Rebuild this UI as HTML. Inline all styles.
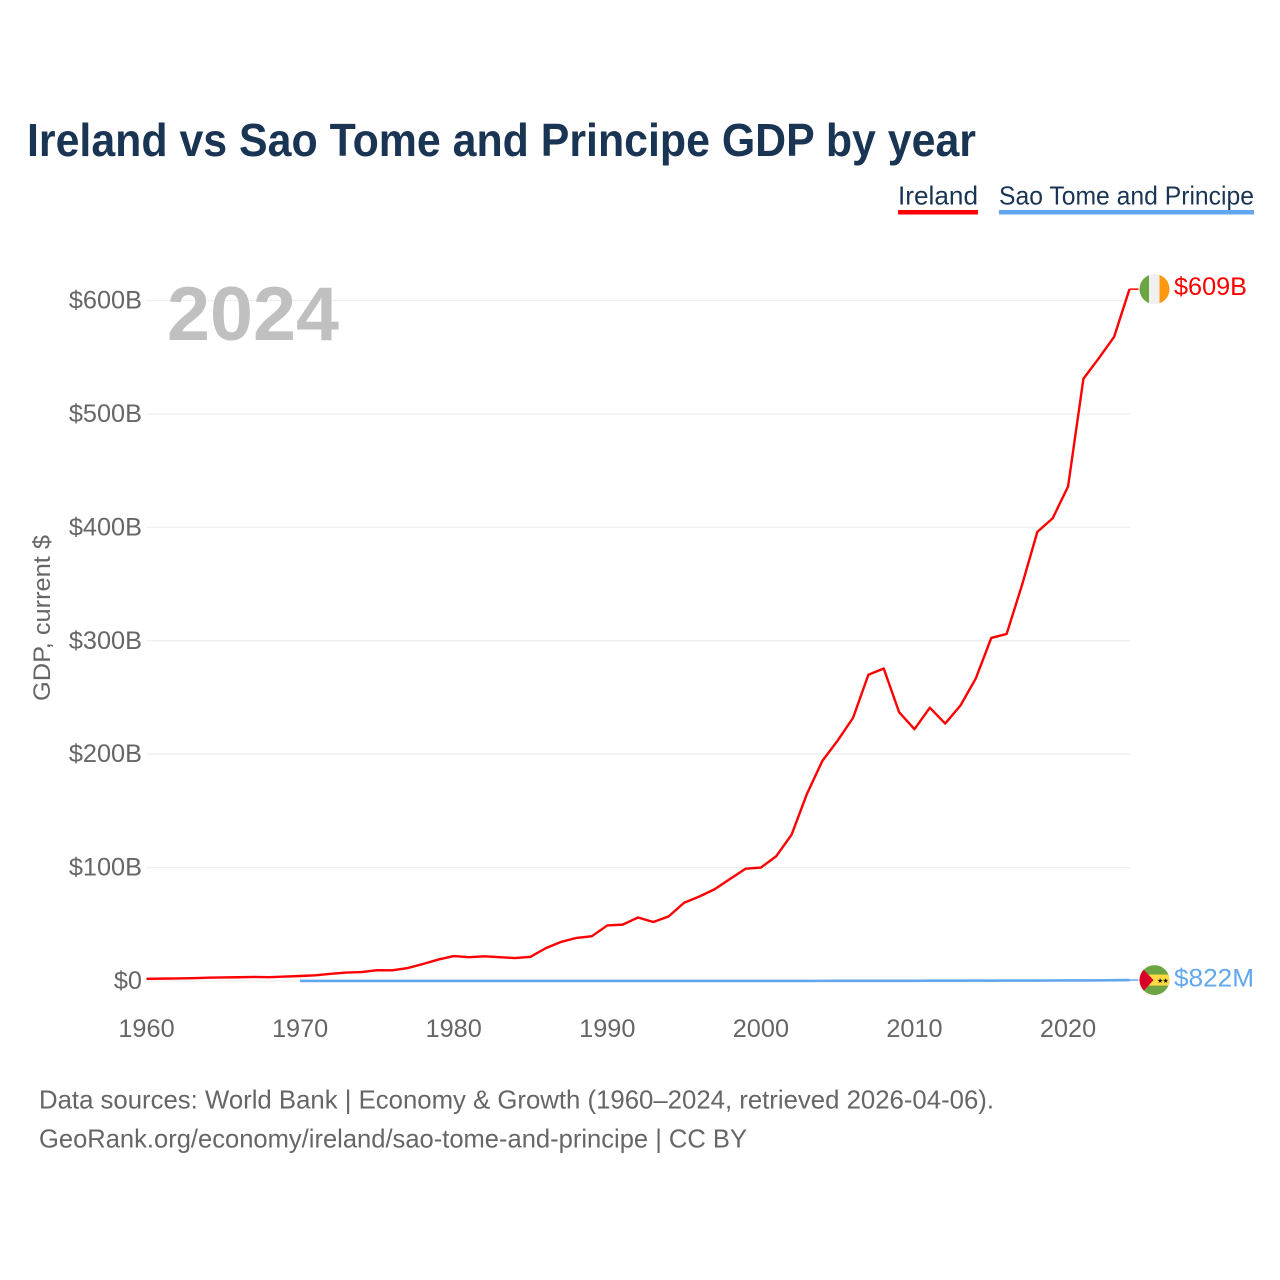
<!DOCTYPE html>
<html lang="en">
<head>
<meta charset="utf-8">
<title>Ireland vs Sao Tome and Principe GDP by year</title>
<style>
html,body{margin:0;padding:0;background:#fff;}
svg{display:block;font-family:"Liberation Sans",sans-serif;}
</style>
</head>
<body>
<svg id="chart" xmlns="http://www.w3.org/2000/svg" width="1280" height="1280" viewBox="0 0 1280 1280">
  <rect x="0" y="0" width="1280" height="1280" fill="#ffffff"/>
  <text x="27" y="156" font-size="46" font-weight="700" fill="#1a3454" textLength="949" lengthAdjust="spacingAndGlyphs">Ireland vs Sao Tome and Principe GDP by year</text>

  <g>
    <text x="898" y="204.5" font-size="26" fill="#1a3454" textLength="80" lengthAdjust="spacingAndGlyphs">Ireland</text>
    <rect x="898" y="210" width="80" height="4.5" fill="#ff0000"/>
  </g>
  <g>
    <text x="999" y="204.5" font-size="26" fill="#1a3454" textLength="255" lengthAdjust="spacingAndGlyphs">Sao Tome and Principe</text>
    <rect x="999" y="210" width="255" height="4.5" fill="#62a6ee"/>
  </g>

  <text transform="translate(50,618) rotate(-90)" text-anchor="middle" font-size="24" fill="#666666" textLength="166" lengthAdjust="spacingAndGlyphs">GDP, current $</text>

  <g id="grid"></g>
  <g id="yticks"></g>
  <g id="xticks"></g>

  <text x="167" y="340" font-size="76" font-weight="700" fill="#c0c0c0" textLength="172" lengthAdjust="spacingAndGlyphs">2024</text>

  <path id="line-sao-tome" fill="none" stroke="#62a6ee" stroke-width="2.6" stroke-linejoin="round"/>
  <path id="line-ireland" fill="none" stroke="#ff0000" stroke-width="2.4" stroke-linejoin="round"/>

  <g id="end-ireland">
    <line id="conn-ireland" stroke="#ff0000" stroke-width="1.5"/>
    <g id="flag-ireland">
      <clipPath id="clip-ie"><circle cx="0" cy="0" r="15"/></clipPath>
      <g clip-path="url(#clip-ie)">
        <rect x="-15" y="-15" width="30" height="30" fill="#f0f0f0"/>
        <rect x="-15" y="-15" width="9.5" height="30" fill="#6da544"/>
        <rect x="5" y="-15" width="10" height="30" fill="#ff9811"/>
      </g>
    </g>
    <text id="value-ireland" x="1174" font-size="25" fill="#ff0000" textLength="73" lengthAdjust="spacingAndGlyphs">$609B</text>
  </g>

  <g id="end-sao-tome">
    <line id="conn-sao-tome" stroke="#62a6ee" stroke-width="1.5"/>
    <g id="flag-sao-tome">
      <clipPath id="clip-st"><circle cx="0" cy="0" r="15"/></clipPath>
      <g clip-path="url(#clip-st)">
        <rect x="-15" y="-15" width="30" height="30" fill="#6da544"/>
        <rect x="-15" y="-5.5" width="30" height="11" fill="#ffda44"/>
        <polygon points="-15,-15 -15,15 -1,0" fill="#d80027"/>
        <text x="2.5" y="3" font-size="7" fill="#111111" style="font-family:'DejaVu Sans',sans-serif">★</text>
        <text x="8" y="3" font-size="7" fill="#111111" style="font-family:'DejaVu Sans',sans-serif">★</text>
      </g>
    </g>
    <text id="value-sao-tome" x="1174" font-size="25" fill="#62a6ee" textLength="80" lengthAdjust="spacingAndGlyphs">$822M</text>
  </g>

  <text x="39" y="1108.5" font-size="26" fill="#666666" textLength="955" lengthAdjust="spacingAndGlyphs">Data sources: World Bank | Economy &amp; Growth (1960–2024, retrieved 2026-04-06).</text>
  <text x="39" y="1147.5" font-size="26" fill="#666666" textLength="708" lengthAdjust="spacingAndGlyphs">GeoRank.org/economy/ireland/sao-tome-and-principe | CC BY</text>
</svg>
<script>
var irelandStartYear = 1960;
var irelandValues = [1.9,2.1,2.3,2.5,2.9,3.1,3.3,3.6,3.4,3.9,4.4,5.0,6.3,7.4,7.9,9.5,9.4,11.4,15,18.9,22,21,21.8,21,20.2,21.3,29,34.5,38,39.5,49,49.7,56,52,57,69,74.5,81,90,99,100,110,129,165,194,212,232,270,275.5,237,222,241,227,243,267,302.5,306,349,396,408,436,531,549,568,610];
var saoTomeStartYear = 1970;
var saoTomeValues = [0.02,0.02,0.02,0.03,0.04,0.04,0.04,0.05,0.05,0.06,0.07,0.07,0.07,0.07,0.06,0.05,0.06,0.06,0.06,0.05,0.06,0.05,0.05,0.05,0.05,0.05,0.05,0.05,0.05,0.05,0.08,0.08,0.09,0.1,0.11,0.12,0.13,0.15,0.18,0.19,0.2,0.25,0.27,0.31,0.35,0.32,0.35,0.38,0.41,0.43,0.47,0.53,0.55,0.68,0.82];
var yTickValues = [0,100,200,300,400,500,600];
var yTickLabels = ['$0','$100B','$200B','$300B','$400B','$500B','$600B'];
var xTickYears = [1960,1970,1980,1990,2000,2010,2020];

function xScale(year){ return 146.5 + (year - 1960) * (1129.5 - 146.5) / 64; }
function yScale(v){ return 981 - v * (981 - 300.5) / 600; }

var SVGNS = 'http://www.w3.org/2000/svg';
var grid = document.getElementById('grid');
var yticks = document.getElementById('yticks');
var xticks = document.getElementById('xticks');

yTickValues.forEach(function(v, i){
  var line = document.createElementNS(SVGNS, 'line');
  
  
  line.setAttribute('x1', 147);
  line.setAttribute('x2', 1130);
  line.setAttribute('y1', yScale(v));
  line.setAttribute('y2', yScale(v));
  line.setAttribute('stroke', '#eeeeee');
  line.setAttribute('stroke-width', '1.2');
  grid.appendChild(line);

  var t = document.createElementNS(SVGNS, 'text');
  
  
  t.setAttribute('x', 142);
  t.setAttribute('y', yScale(v) + 8);
  t.setAttribute('text-anchor', 'end');
  t.setAttribute('font-size', '25.3');
  t.setAttribute('fill', '#666666');
  t.textContent = yTickLabels[i];
  yticks.appendChild(t);
});

xTickYears.forEach(function(year){
  var t = document.createElementNS(SVGNS, 'text');
  
  
  t.setAttribute('x', xScale(year));
  t.setAttribute('y', 1037);
  t.setAttribute('text-anchor', 'middle');
  t.setAttribute('font-size', '25.3');
  t.setAttribute('fill', '#666666');
  t.textContent = String(year);
  xticks.appendChild(t);
});

function linePath(values, startYear){
  return values.map(function(v, i){
    return (i ? 'L' : 'M') + xScale(startYear + i).toFixed(2) + ' ' + yScale(v).toFixed(2);
  }).join(' ');
}
document.getElementById('line-ireland').setAttribute('d', linePath(irelandValues, irelandStartYear));
document.getElementById('line-sao-tome').setAttribute('d', linePath(saoTomeValues, saoTomeStartYear));

function placeEnd(id, values, startYear, dy){
  var lastV = values[values.length - 1];
  var lastX = xScale(startYear + values.length - 1);
  var lastY = yScale(lastV);
  var conn = document.getElementById('conn-' + id);
  conn.setAttribute('x1', lastX);
  conn.setAttribute('x2', lastX + 9);
  conn.setAttribute('y1', lastY);
  conn.setAttribute('y2', lastY);
  document.getElementById('flag-' + id).setAttribute('transform', 'translate(' + (lastX + 25) + ',' + lastY + ')');
  document.getElementById('value-' + id).setAttribute('y', lastY + dy);
}
placeEnd('ireland', irelandValues, irelandStartYear, 6);
placeEnd('sao-tome', saoTomeValues, saoTomeStartYear, 6.5);
</script>
</body>
</html>
